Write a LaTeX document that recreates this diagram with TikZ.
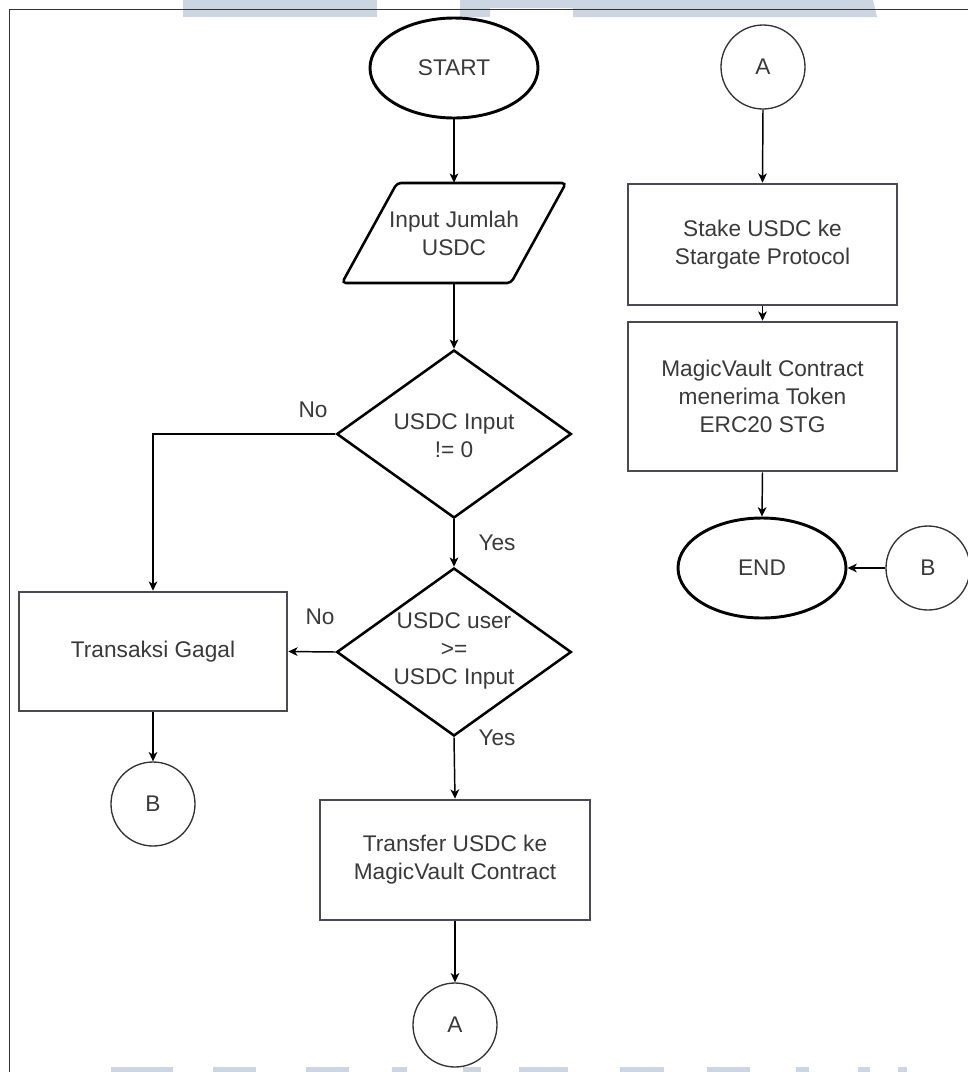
\documentclass[tikz,border=0pt]{standalone}
\usepackage{fontspec}
\setmainfont{Liberation Sans}
\usetikzlibrary{shapes.geometric,arrows.meta,calc}

\definecolor{txt}{HTML}{3A3A3A}
\definecolor{wm}{RGB}{204,214,226}
\definecolor{boxline}{HTML}{4A4A55}

\begin{document}
\begin{tikzpicture}[x=0.75pt,y=-0.75pt,
  every node/.style={font=\fontsize{17}{21}\selectfont, text=txt, align=center},
  terminal/.style={ellipse, draw=black, line width=2.2pt, minimum width=126pt, minimum height=75pt, inner sep=0pt},
  connector/.style={circle, draw=black!80, line width=1pt, minimum size=63pt, inner sep=0pt},
  procbox/.style={rectangle, draw=boxline, line width=1.9pt, inner sep=0pt},
  decision/.style={diamond, draw=black, line width=1.9pt, minimum width=176pt, minimum height=126pt, inner sep=0pt},
  flow/.style={draw=black, line width=1.1pt, -{Stealth[length=7pt,width=6.5pt,inset=2pt]}},
  lbl/.style={inner sep=1pt}
]
\useasboundingbox (0,0) rectangle (968,1072);
\fill[white] (0,0) rectangle (968,1072);

% header and footer bands
\fill[wm] (183,0) rectangle (377,17);
\fill[wm] (460,0) -- (873,0) -- (877,17) -- (573,17) -- (573,8) -- (490,8) -- (490,17) -- (460,17) -- cycle;
\foreach \a/\b in {111/173,213/256,306/349,392/407,463/481,519/568,620/664,707/750,796/809,858/870,898/907}
  \fill[wm] (\a,1067) rectangle (\b,1072);

% page frame
\draw[line width=1.1pt, black!80] (9.5,1072) -- (9.5,9.5) -- (968,9.5);

% left column
\node[terminal] (start) at (454,68) {START};
\node[minimum width=126.75pt, minimum height=75pt, inner sep=0pt] (inp) at (454,233) {Input Jumlah\\USDC};
\draw[line width=1.9pt, rounded corners=3pt] (397,183) -- (566,183) -- (511,283) -- (342,283) -- cycle;

\node[decision] (d1) at (454,434) {};
\node (d1t) at (454,436) {USDC Input\\!= 0};
\node[decision] (d2) at (454,652) {};
\node (d2t) at (454,651) {USDC user\\>=\\USDC Input};

\node[procbox, minimum width=201pt, minimum height=89.25pt] (tg) at (153,651.5) {Transaksi Gagal};
\node[connector] (bleft) at (153,804) {B};
\node[procbox, minimum width=202.5pt, minimum height=90pt] (tr) at (455,860) {Transfer USDC ke\\MagicVault Contract};
\node[connector] (abot) at (455,1025) {A};

% right column
\node[connector] (atop) at (763,67) {A};
\node[procbox, minimum width=201.75pt, minimum height=90.75pt] (stake) at (762.5,244.5) {Stake USDC ke\\Stargate Protocol};
\node[procbox, minimum width=201.75pt, minimum height=111.75pt] (mv) at (762.5,396.5) {MagicVault Contract\\menerima Token\\ERC20 STG};
\node[terminal] (finish) at (762,568) {END};
\node[connector] (bright) at (928,568) {B};

% branch labels
\node[lbl] (no1) at (313,410) {No};
\node[lbl] (yes1) at (497,543) {Yes};
\node[lbl] (no2) at (320,617) {No};
\node[lbl] (yes2) at (497,738) {Yes};

% flow
\draw[flow] (start.south) -- (inp.north);
\draw[flow] (inp.south) -- (d1.north);
\draw[flow] (d1.west) -| (tg.north);
\draw[flow] (d1.south) -- (d2.north);
\draw[flow] (d2.west) -- (tg.east);
\draw[flow] (d2.south) -- (tr.north);
\draw[flow] (tg.south) -- (bleft.north);
\draw[flow] (tr.south) -- (abot.north);
\draw[flow] (atop.south) -- (stake.north);
\draw[flow] (stake.south) -- (mv.north);
\draw[flow] (mv.south) -- (finish.north);
\draw[flow] (bright.west) -- (finish.east);
\end{tikzpicture}
\end{document}
